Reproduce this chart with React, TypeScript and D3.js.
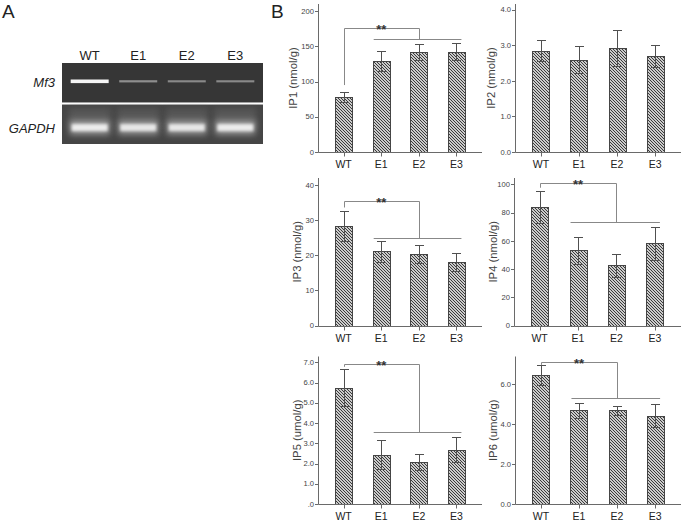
import React from 'react';
import * as d3 from 'd3';

// ---------- data ----------
const groups = ['WT', 'E1', 'E2', 'E3'];

const ip1Values = [78, 129, 142, 142];
const ip1Errors = [7.5, 14, 11, 12];
const ip2Values = [2.85, 2.59, 2.92, 2.7];
const ip2Errors = [0.3, 0.38, 0.51, 0.3];
const ip3Values = [28.3, 21.1, 20.3, 18.1];
const ip3Errors = [4.3, 2.9, 2.6, 2.6];
const ip4Values = [84.2, 53.2, 42.8, 58.2];
const ip4Errors = [11.5, 9.8, 8.2, 12];
const ip5Values = [5.74, 2.44, 2.06, 2.69];
const ip5Errors = [0.92, 0.72, 0.39, 0.63];
const ip6Values = [6.45, 4.69, 4.69, 4.42];
const ip6Errors = [0.5, 0.39, 0.23, 0.57];

const ip1Ticks = [0, 50, 100, 150, 200];
const ip2Ticks = [0, 1, 2, 3, 4];
const ip3Ticks = [0, 10, 20, 30, 40];
const ip4Ticks = [0, 20, 40, 60, 80, 100];
const ip5Ticks = [0, 1, 2, 3, 4, 5, 6, 7];
const ip6Ticks = [0, 2, 4, 6];

const axisMax = [210, 4.16, 42, 104.6, 7.29, 7.39];

const axisTitles = ['IP1 (nmol/g)', 'IP2 (nmol/g)', 'IP3 (nmol/g)', 'IP4 (nmol/g)', 'IP5 (umol/g)', 'IP6 (umol/g)'];

// significance bracket: [bracket top, WT leg end, group line] in data units
const ip1Sig = [176, 95, 160];
const ip3Sig = [35.4, 33.6, 24.8];
const ip4Sig = [101.2, 97.7, 73.3];
const ip5Sig = [6.92, 6.78, 3.57];
const ip6Sig = [7.13, 6.97, 5.33];
const sigLabel = '**';

// gel (panel A)
const gelLanes = ['WT', 'E1', 'E2', 'E3'];
const gelRows = ['Mf3', 'GAPDH'];
const mf3Intensity = [1, 0.3, 0.27, 0.27];
const gapdhIntensity = [1, 0.95, 0.95, 1];

const FONT = "'Liberation Sans', Arial, Helvetica, sans-serif";

const fmtInt = d3.format('d');
const fmt1 = d3.format('.1f');
const fmtSpss = (v: number) => (v === 0 ? '.0' : fmt1(v));

type PanelProps = {
  values: number[];
  errors: number[];
  ticks: number[];
  fmt: (v: number) => string;
  yMax: number;
  x0: number;
  x1: number;
  base: number;
  top: number;
  title: string;
  titleX: number;
  sig: number[] | null;
};

function Panel({ values, errors, ticks, fmt, yMax, x0, x1, base, top, title, titleX, sig }: PanelProps) {
  const x = d3.scalePoint<string>().domain(groups).range([x0, x1]).padding(0.68);
  const y = d3.scaleLinear().domain([0, yMax]).range([base, top]);
  const bw = 17;
  const cap = 4.5;
  const ax = Math.round(x0) + 0.5;
  const by = Math.round(base) + 0.5;
  const axisColor = '#6a6a6a';
  const errColor = '#505050';
  const sigColor = '#888888';
  const cx = (i: number) => Math.round(x(groups[i])!) + 0.5;

  let sigEls: React.ReactNode = null;
  if (sig) {
    const yt = Math.round(y(sig[0])) + 0.5;
    const yl = y(sig[1]);
    const yg = Math.round(y(sig[2])) + 0.5;
    const xw = cx(0);
    const xm = cx(2);
    const gl = x(groups[1])! - 7.5;
    const gr = x(groups[3])! + 5;
    sigEls = (
      <g stroke={sigColor} strokeWidth={1} fill="none">
        <path d={`M${xw},${yl}V${yt}H${xm}V${yg}`} />
        <line x1={gl} x2={gr} y1={yg} y2={yg} />
        <text
          x={x(groups[1])!}
          y={yt + 5}
          textAnchor="middle"
          fontSize={13}
          fontWeight="bold"
          fill="#333"
          stroke="none"
        >
          {sigLabel}
        </text>
      </g>
    );
  }

  return (
    <g>
      {values.map((v, i) => {
        const c = x(groups[i])!;
        return (
          <rect
            key={'b' + i}
            x={Math.round(c - bw / 2) + 0.5}
            y={Math.round(y(v)) + 0.5}
            width={bw}
            height={by - (Math.round(y(v)) + 0.5)}
            fill="url(#hatch)"
            stroke="#454545"
            strokeWidth={1}
          />
        );
      })}
      {values.map((v, i) => {
        const c = cx(i);
        const yh = Math.round(y(v + errors[i])) + 0.5;
        const yl = Math.round(y(v - errors[i])) + 0.5;
        return (
          <g key={'e' + i} stroke={errColor} strokeWidth={1}>
            <line x1={c} x2={c} y1={yh} y2={yl} />
            <line x1={c - cap} x2={c + cap} y1={yh} y2={yh} />
            <line x1={c - cap} x2={c + cap} y1={yl} y2={yl} />
          </g>
        );
      })}
      <g stroke={axisColor} strokeWidth={1}>
        <line x1={ax} x2={ax} y1={top} y2={by} />
        <line x1={ax} x2={x1} y1={by} y2={by} />
        {ticks.map((t) => {
          const ty = Math.round(y(t)) + 0.5;
          return <line key={'yt' + t} x1={ax - 3.5} x2={ax} y1={ty} y2={ty} />;
        })}
        {groups.map((g, i) => (
          <line key={'xt' + g} x1={cx(i)} x2={cx(i)} y1={by} y2={by + 4} />
        ))}
      </g>
      {ticks.map((t) => (
        <text
          key={'yl' + t}
          x={ax - 4.5}
          y={y(t)}
          dy="0.35em"
          textAnchor="end"
          fontSize={7.6}
          fill="#444"
        >
          {fmt(t)}
        </text>
      ))}
      {groups.map((g, i) => (
        <text key={'xl' + g} x={x(g)!} y={by + 15} textAnchor="middle" fontSize={10.5} fill="#222">
          {g}
        </text>
      ))}
      <text
        transform={`translate(${titleX},${(base + top) / 2}) rotate(-90)`}
        dy="0.35em"
        textAnchor="middle"
        fontSize={11.3}
        fill="#444"
      >
        {title}
      </text>
      {sigEls}
    </g>
  );
}

function Gel() {
  const lane = d3.scalePoint<string>().domain(gelLanes).range([62, 263]).padding(0.57);
  const row = d3.scaleBand<string>().domain(gelRows).range([63, 144]).paddingInner(0.05);
  const gx0 = 62;
  const gw = 201;
  const bandW = 38;
  const mix = d3.interpolateRgb('#3a3a3a', '#ffffff');
  const topY = row('Mf3')!;
  const botY = row('GAPDH')!;
  const rh = row.bandwidth();
  return (
    <g>
      <rect x={gx0} y={topY} width={gw} height={rh} fill="#363636" />
      <rect x={gx0} y={botY} width={gw} height={rh} fill="#454545" />
      {gelLanes.map((l, i) => {
        const c = lane(l)!;
        const inten = mf3Intensity[i];
        return (
          <rect
            key={'m' + l}
            x={c - bandW / 2}
            y={topY + 17.5 - inten}
            width={bandW}
            height={1.6 + 2 * inten}
            fill={mix(0.2 + 0.75 * inten)}
            filter="url(#soft)"
          />
        );
      })}
      {gelLanes.map((l, i) => {
        const c = lane(l)!;
        const inten = gapdhIntensity[i];
        return (
          <g key={'g' + l}>
            <rect x={c - bandW / 2 - 2} y={botY + 4} width={bandW + 4} height={18} fill="#6a6a6a" opacity={0.5 * inten} filter="url(#glow)" />
            <rect x={c - bandW / 2 - 1} y={botY + 16} width={bandW + 2} height={14} fill="#b0b0b0" opacity={0.8 * inten} filter="url(#glow)" />
            <rect x={c - bandW / 2 + 1} y={botY + 19.5} width={bandW - 2} height={7} fill="#ececec" opacity={inten} filter="url(#soft2)" />
          </g>
        );
      })}
      {gelLanes.map((l) => (
        <text key={'t' + l} x={lane(l)!} y={topY - 3} textAnchor="middle" fontSize={13} fill="#222">
          {l}
        </text>
      ))}
      <text x={55} y={topY + rh / 2} dy="0.35em" textAnchor="end" fontSize={13} fontStyle="italic" fill="#222">
        {gelRows[0]}
      </text>
      <text x={55} y={botY + rh / 2 + 4} dy="0.35em" textAnchor="end" fontSize={13} fontStyle="italic" fill="#222">
        {gelRows[1]}
      </text>
    </g>
  );
}

export default function App() {
  const L = [318, 482];
  const R = [515, 681];
  const rows = [
    [152, 4],
    [325.5, 178],
    [504, 356.5],
  ];
  return (
    <svg
      width={685}
      height={522}
      style={{ position: 'absolute', left: 0, top: 0, background: '#fff' }}
      fontFamily={FONT}
    >
      <defs>
        <pattern id="hatch" patternUnits="userSpaceOnUse" width={3} height={3}>
          <rect width={3} height={3} fill="#cbcbcb" />
          <path d="M-1,-1L4,4M-1,2L1,4M2,-1L4,1" stroke="#333" strokeWidth={0.95} />
        </pattern>
        <filter id="soft" x="-20%" y="-200%" width="140%" height="500%">
          <feGaussianBlur stdDeviation="0.6" />
        </filter>
        <filter id="soft2" x="-20%" y="-100%" width="140%" height="300%">
          <feGaussianBlur stdDeviation="1.4" />
        </filter>
        <filter id="glow" x="-30%" y="-60%" width="160%" height="220%">
          <feGaussianBlur stdDeviation="3" />
        </filter>
      </defs>
      <rect width={685} height={522} fill="#fff" />
      <text x={2} y={18} fontSize={19} fill="#222">A</text>
      <text x={271} y={18} fontSize={19} fill="#222">B</text>
      <Gel />
      <Panel values={ip1Values} errors={ip1Errors} ticks={ip1Ticks} fmt={fmtInt} yMax={axisMax[0]}
        x0={L[0]} x1={L[1]} base={rows[0][0]} top={rows[0][1]} title={axisTitles[0]} titleX={293} sig={ip1Sig} />
      <Panel values={ip2Values} errors={ip2Errors} ticks={ip2Ticks} fmt={fmt1} yMax={axisMax[1]}
        x0={R[0]} x1={R[1]} base={rows[0][0]} top={rows[0][1]} title={axisTitles[1]} titleX={491.5} sig={null} />
      <Panel values={ip3Values} errors={ip3Errors} ticks={ip3Ticks} fmt={fmtInt} yMax={axisMax[2]}
        x0={L[0]} x1={L[1]} base={rows[1][0]} top={rows[1][1]} title={axisTitles[2]} titleX={297} sig={ip3Sig} />
      <Panel values={ip4Values} errors={ip4Errors} ticks={ip4Ticks} fmt={fmtInt} yMax={axisMax[3]}
        x0={R[0] - 1.5} x1={R[1]} base={rows[1][0]} top={rows[1][1]} title={axisTitles[3]} titleX={493} sig={ip4Sig} />
      <Panel values={ip5Values} errors={ip5Errors} ticks={ip5Ticks} fmt={fmtSpss} yMax={axisMax[4]}
        x0={L[0]} x1={L[1]} base={rows[2][0]} top={rows[2][1]} title={axisTitles[4]} titleX={297} sig={ip5Sig} />
      <Panel values={ip6Values} errors={ip6Errors} ticks={ip6Ticks} fmt={fmt1} yMax={axisMax[5]}
        x0={R[0]} x1={R[1]} base={rows[2][0]} top={rows[2][1]} title={axisTitles[5]} titleX={493} sig={ip6Sig} />
    </svg>
  );
}
